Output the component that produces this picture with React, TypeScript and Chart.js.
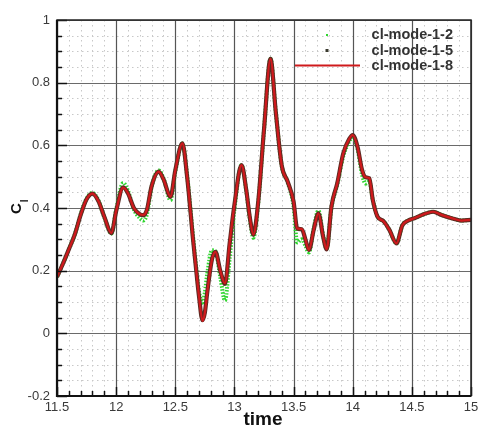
import { useEffect, useRef } from 'react';
import { Chart, registerables } from 'chart.js';

Chart.register(...registerables);

const TIME = [
  11.5, 11.55, 11.6, 11.65, 11.7, 11.75, 11.8, 11.85, 11.9, 11.96,
  12.0, 12.06, 12.1, 12.15, 12.2, 12.23, 12.26, 12.3, 12.36, 12.4,
  12.46, 12.5, 12.56, 12.6, 12.65, 12.68, 12.7, 12.73, 12.75, 12.77,
  12.81, 12.84, 12.88, 12.92, 12.96, 13.0, 13.06, 13.1, 13.13, 13.16,
  13.2, 13.25, 13.305, 13.35, 13.4, 13.45, 13.5, 13.53, 13.57, 13.6,
  13.63, 13.67, 13.71, 13.75, 13.78, 13.82, 13.87, 13.92, 13.97, 14.0,
  14.04, 14.08, 14.11, 14.14, 14.17, 14.21, 14.26, 14.31, 14.37, 14.42,
  14.47, 14.52, 14.6, 14.68, 14.75, 14.85, 14.92, 15.0,
];

const MODE_1_2 = [
  0.18, 0.222, 0.268, 0.315, 0.38, 0.43, 0.448, 0.424, 0.37, 0.318,
  0.395, 0.48, 0.455, 0.395, 0.368, 0.36, 0.38, 0.468, 0.52, 0.495,
  0.425, 0.515, 0.606, 0.505, 0.31, 0.2, 0.135, 0.098, 0.13, 0.19,
  0.265, 0.262, 0.18, 0.105, 0.24, 0.395, 0.537, 0.455, 0.365, 0.305,
  0.41, 0.648, 0.876, 0.705, 0.535, 0.482, 0.405, 0.29, 0.3, 0.28,
  0.258, 0.335, 0.392, 0.312, 0.27, 0.4, 0.476, 0.565, 0.612, 0.628,
  0.59, 0.505, 0.478, 0.485, 0.425, 0.372, 0.358, 0.33, 0.287, 0.345,
  0.36, 0.367, 0.38, 0.388, 0.378, 0.366, 0.36, 0.362,
];

const MODE_1_5 = [
  0.18, 0.222, 0.268, 0.315, 0.378, 0.428, 0.446, 0.422, 0.372, 0.32,
  0.39, 0.466, 0.447, 0.4, 0.38, 0.377, 0.394, 0.47, 0.516, 0.492,
  0.436, 0.52, 0.606, 0.5, 0.3, 0.19, 0.12, 0.042, 0.066, 0.13,
  0.236, 0.26, 0.2, 0.158, 0.288, 0.41, 0.537, 0.457, 0.37, 0.315,
  0.415, 0.65, 0.876, 0.705, 0.535, 0.484, 0.42, 0.335, 0.332, 0.3,
  0.266, 0.33, 0.383, 0.308, 0.268, 0.404, 0.48, 0.574, 0.62, 0.633,
  0.596, 0.52, 0.498, 0.495, 0.425, 0.372, 0.358, 0.33, 0.287, 0.345,
  0.36, 0.367, 0.38, 0.388, 0.378, 0.366, 0.36, 0.362,
];

const MODE_1_8 = [
  0.18, 0.222, 0.268, 0.315, 0.378, 0.428, 0.446, 0.422, 0.372, 0.32,
  0.39, 0.465, 0.447, 0.4, 0.38, 0.378, 0.395, 0.47, 0.516, 0.492,
  0.436, 0.52, 0.606, 0.5, 0.3, 0.19, 0.12, 0.04, 0.065, 0.13,
  0.235, 0.26, 0.2, 0.16, 0.29, 0.41, 0.537, 0.457, 0.37, 0.315,
  0.415, 0.65, 0.876, 0.705, 0.535, 0.484, 0.42, 0.335, 0.333, 0.3,
  0.266, 0.33, 0.383, 0.308, 0.268, 0.404, 0.48, 0.574, 0.62, 0.633,
  0.596, 0.52, 0.498, 0.495, 0.425, 0.372, 0.358, 0.33, 0.287, 0.345,
  0.36, 0.367, 0.38, 0.388, 0.378, 0.366, 0.36, 0.362,
];

const SERIES_NAMES = ['cl-mode-1-2', 'cl-mode-1-5', 'cl-mode-1-8'];
const X_LABELS = [11.5, 12, 12.5, 13, 13.5, 14, 14.5, 15];
const Y_LABELS = [-0.2, 0, 0.2, 0.4, 0.6, 0.8, 1];
const X_TITLE = 'time';
const Y_TITLE_MAIN = 'C';
const Y_TITLE_SUB = 'l';

const FONT = "'Liberation Sans', Arial, sans-serif";
const GREEN = '#2fd62f';
const DARK = '#5e2a24';
const RED = '#cf1a1c';

const isMajor = (list: number[], v: number) => list.some((m) => Math.abs(m - v) < 1e-6);

const decorPlugin = {
  id: 'decor',
  beforeDatasetsDraw(chart: any) {
    const { ctx, chartArea } = chart;
    const { left, right, top, bottom } = chartArea;
    const xs = chart.scales.x;
    const ys = chart.scales.y;
    ctx.save();
    // minor dotted grid
    ctx.strokeStyle = '#c8c8c8';
    ctx.lineWidth = 1;
    ctx.setLineDash([1.5, 3.5]);
    xs.ticks.forEach((t: any) => {
      if (isMajor(X_LABELS, t.value)) return;
      const px = Math.round(xs.getPixelForValue(t.value)) + 0.5;
      ctx.beginPath();
      ctx.moveTo(px, top);
      ctx.lineTo(px, bottom);
      ctx.stroke();
    });
    ys.ticks.forEach((t: any) => {
      if (isMajor(Y_LABELS, t.value)) return;
      const py = Math.round(ys.getPixelForValue(t.value)) + 0.5;
      ctx.beginPath();
      ctx.moveTo(left, py);
      ctx.lineTo(right, py);
      ctx.stroke();
    });
    // major grid
    ctx.setLineDash([]);
    ctx.lineWidth = 1.2;
    ctx.strokeStyle = '#555';
    xs.ticks.forEach((t: any) => {
      if (!isMajor(X_LABELS, t.value)) return;
      const px = Math.round(xs.getPixelForValue(t.value)) + 0.5;
      ctx.beginPath();
      ctx.moveTo(px, top);
      ctx.lineTo(px, bottom);
      ctx.stroke();
    });
    ctx.strokeStyle = '#6a6a6a';
    ys.ticks.forEach((t: any) => {
      if (!isMajor(Y_LABELS, t.value)) return;
      const py = Math.round(ys.getPixelForValue(t.value)) + 0.5;
      ctx.beginPath();
      ctx.moveTo(left, py);
      ctx.lineTo(right, py);
      ctx.stroke();
    });
    ctx.restore();
  },
  afterDraw(chart: any) {
    const { ctx, chartArea } = chart;
    const { left, right, top, bottom } = chartArea;
    const xs = chart.scales.x;
    const ys = chart.scales.y;
    ctx.save();
    // inward ticks
    ctx.strokeStyle = '#111';
    ctx.lineWidth = 1.5;
    xs.ticks.forEach((t: any) => {
      const px = Math.round(xs.getPixelForValue(t.value)) + 0.5;
      const len = isMajor(X_LABELS, t.value) ? 9 : 5;
      ctx.beginPath();
      ctx.moveTo(px, bottom);
      ctx.lineTo(px, bottom - len);
      ctx.stroke();
    });
    ys.ticks.forEach((t: any) => {
      const py = Math.round(ys.getPixelForValue(t.value)) + 0.5;
      const len = isMajor(Y_LABELS, t.value) ? 10 : 5;
      ctx.beginPath();
      ctx.moveTo(left, py);
      ctx.lineTo(left + len, py);
      ctx.stroke();
    });
    // frame
    ctx.strokeStyle = '#222';
    ctx.lineWidth = 1.5;
    ctx.strokeRect(left, top, right - left, bottom - top);
    ctx.strokeStyle = '#111';
    ctx.lineWidth = 2.2;
    ctx.beginPath();
    ctx.moveTo(left, top);
    ctx.lineTo(left, bottom);
    ctx.lineTo(right, bottom);
    ctx.stroke();

    // legend
    const rows = [35, 50.5, 65.5];
    ctx.font = `bold 14.5px ${FONT}`;
    ctx.fillStyle = '#333';
    ctx.textAlign = 'right';
    ctx.textBaseline = 'middle';
    SERIES_NAMES.forEach((name, i) => {
      ctx.fillText(name, 453, rows[i]);
    });
    ctx.fillStyle = GREEN;
    ctx.fillRect(326, rows[0] - 1, 2, 2);
    ctx.fillStyle = '#3a3a2e';
    ctx.fillRect(325.5, rows[1] - 1.5, 3, 3);
    ctx.strokeStyle = RED;
    ctx.lineWidth = 2;
    ctx.beginPath();
    ctx.moveTo(295, rows[2]);
    ctx.lineTo(360, rows[2]);
    ctx.stroke();

    // x title
    ctx.fillStyle = '#111';
    ctx.font = `bold 19px ${FONT}`;
    ctx.textAlign = 'center';
    ctx.textBaseline = 'alphabetic';
    ctx.fillText(X_TITLE, 263, 425);

    // y title (rotated) C with subscript l
    ctx.save();
    ctx.translate(21, 214);
    ctx.rotate(-Math.PI / 2);
    ctx.textAlign = 'left';
    ctx.font = `bold 15px ${FONT}`;
    ctx.fillText(Y_TITLE_MAIN, 0, 0);
    const w = ctx.measureText(Y_TITLE_MAIN).width;
    ctx.font = `bold 10px ${FONT}`;
    ctx.fillText(Y_TITLE_SUB, w + 1, 7);
    ctx.restore();

    ctx.restore();
  },
};

export default function App() {
  const canvasRef = useRef<HTMLCanvasElement | null>(null);

  useEffect(() => {
    const canvas = canvasRef.current;
    if (!canvas) return;
    const toPts = (ys: number[]) => TIME.map((t, i) => ({ x: t, y: ys[i] }));
    const chart = new Chart(canvas, {
      type: 'line',
      data: {
        datasets: [
          {
            label: SERIES_NAMES[2],
            data: toPts(MODE_1_8),
            borderColor: RED,
            borderWidth: 2.2,
            pointRadius: 0,
            cubicInterpolationMode: 'monotone',
            order: 0,
          },
          {
            label: SERIES_NAMES[1],
            data: toPts(MODE_1_5),
            borderColor: DARK,
            borderWidth: 4.2,
            pointRadius: 0,
            cubicInterpolationMode: 'monotone',
            order: 1,
          },
          {
            label: SERIES_NAMES[0],
            data: toPts(MODE_1_2),
            borderColor: GREEN,
            borderWidth: 4,
            borderDash: [1.5, 1.5],
            pointRadius: 0,
            cubicInterpolationMode: 'monotone',
            order: 2,
          },
        ],
      },
      options: {
        animation: false,
        responsive: false,
        devicePixelRatio: 1,
        layout: { padding: { left: 0, top: 20, right: 23, bottom: 0 } },
        plugins: { legend: { display: false }, tooltip: { enabled: false } },
        scales: {
          x: {
            type: 'linear',
            min: 11.5,
            max: 15,
            grid: { display: false, drawTicks: false },
            border: { display: false },
            ticks: {
              stepSize: 0.1,
              autoSkip: false,
              maxRotation: 0,
              padding: 4,
              color: '#3a3a3a',
              font: { family: FONT, size: 13 },
              callback: (v: any) => {
                const m = X_LABELS.find((l) => Math.abs(l - Number(v)) < 1e-6);
                return m === undefined ? '' : String(m);
              },
            },
            afterFit: (s: any) => {
              s.height = 44;
            },
          },
          y: {
            type: 'linear',
            min: -0.2,
            max: 1,
            grid: { display: false, drawTicks: false },
            border: { display: false },
            ticks: {
              stepSize: 0.05,
              autoSkip: false,
              padding: 7,
              color: '#3a3a3a',
              font: { family: FONT, size: 13 },
              callback: (v: any) => {
                const m = Y_LABELS.find((l) => Math.abs(l - Number(v)) < 1e-6);
                return m === undefined ? '' : String(m);
              },
            },
            afterFit: (s: any) => {
              s.width = 57;
            },
          },
        },
      },
      plugins: [decorPlugin],
    });
    return () => chart.destroy();
  }, []);

  return (
    <div style={{ position: 'absolute', left: 0, top: 0, width: 494, height: 440, background: '#fff' }}>
      <canvas ref={canvasRef} width={494} height={440} style={{ display: 'block' }} />
    </div>
  );
}
